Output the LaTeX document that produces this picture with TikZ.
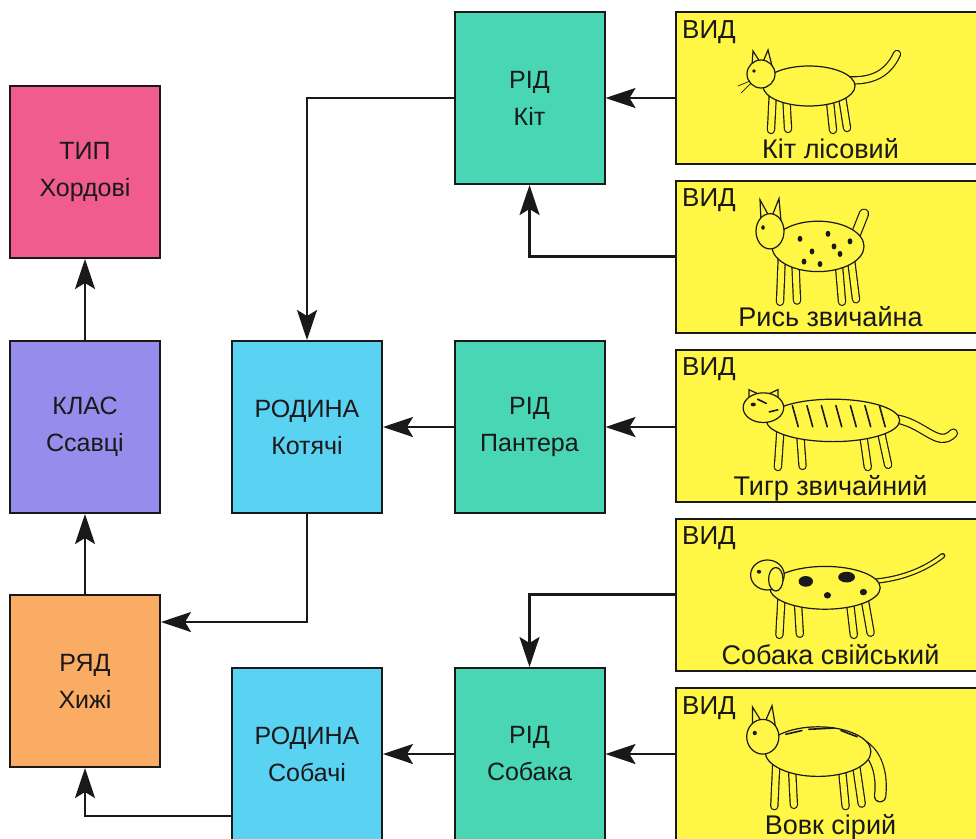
\documentclass[tikz,border=0pt]{standalone}
\usepackage{fontspec}
\setmainfont{Liberation Sans}
\usetikzlibrary{arrows.meta,positioning,calc}

\definecolor{typcol}{RGB}{240,92,142}
\definecolor{klascol}{RGB}{150,140,235}
\definecolor{ryadcol}{RGB}{250,172,100}
\definecolor{rodcol}{RGB}{90,210,242}
\definecolor{ridcol}{RGB}{72,214,180}
\definecolor{vidcol}{RGB}{255,246,70}
\definecolor{ink}{RGB}{25,25,25}

\tikzset{
  taxon/.style={rectangle, draw=ink, line width=2pt, minimum width=150pt, minimum height=172pt, inner sep=0pt, align=center, text=ink, font=\fontsize{25}{37}\selectfont},
  vidbox/.style={rectangle, draw=ink, line width=2pt, fill=vidcol, minimum width=309pt, minimum height=152pt},
  vidtag/.style={anchor=base west, inner sep=0pt, text=ink, font=\fontsize{26}{30}\selectfont},
  vidname/.style={anchor=base, inner sep=0pt, text=ink, font=\fontsize{27}{30}\selectfont},
  arr/.style={draw=ink, line width=2.4pt, -{Stealth[length=30pt,width=20pt,inset=6pt]}},
  leg/.style={draw=ink, line width=1.2pt, double=vidcol, double distance=6pt, line cap=round},
  hide/.style={draw=ink, line width=1.2pt, fill=vidcol},
  fur/.style={draw=ink, line width=1.6pt, line cap=round},
}

% #1 scope options, #2 drawn behind, #3 drawn on top
\newcommand{\zvir}[3]{%
  \begin{scope}[#1]
    #2
    \draw[leg] (44,44) -- (42,84);
    \draw[leg] (57,46) -- (59,83);
    \draw[leg] (100,46) -- (104,84);
    \draw[leg] (112,44) -- (118,82);
    \draw[hide] (80,40) ellipse [x radius=46, y radius=20];
    \draw[hide] (32,28) circle (14);
    \fill[ink] (25,25) circle (1.8);
    #3
  \end{scope}}

\begin{document}
\begin{tikzpicture}[x=1pt, y=-1pt]
\useasboundingbox (0,0) rectangle (976,838);
\clip (0,0) rectangle (976,838);
\fill[white] (0,0) rectangle (976,838);

\node[taxon, fill=typcol] (typ) at (85,172) {ТИП\\Хордові};
\node[taxon, fill=klascol] (klas) at (85,427) {КЛАС\\Ссавці};
\node[taxon, fill=ryadcol] (ryad) at (85,681) {РЯД\\Хижі};
\node[taxon, fill=rodcol] (kotyachi) at (307,427) {РОДИНА\\Котячі};
\node[taxon, fill=rodcol] (sobachi) at (307,754) {РОДИНА\\Собачі};
\node[taxon, fill=ridcol] (kit) at (529.5,98) {РІД\\Кіт};
\node[taxon, fill=ridcol] (pantera) at (529.5,427) {РІД\\Пантера};
\node[taxon, fill=ridcol] (sobaka) at (529.5,754) {РІД\\Собака};

\foreach \n/\y/\name in {1/88/{Кіт лісовий}, 2/256.5/{Рись звичайна}, 3/425.5/{Тигр звичайний}, 4/594.5/{Собака свійський}, 5/764/{Вовк сірий}}{
  \node[vidbox] (vid\n) at (830.5,\y) {};
  \node[vidtag] (tag\n) at ([xshift=7pt,yshift=-27pt]vid\n.north west) {ВИД};
  \node[vidname] (name\n) at ([yshift=7pt]vid\n.south) {\name};
}

\draw[arr] (klas.north) -- (typ.south);
\draw[arr] (ryad.north) -- (klas.south);
\draw[arr] (kotyachi.south) |- ([yshift=-28pt]ryad.north east);
\draw[arr] ([yshift=-149pt]sobachi.north west) -| (ryad.south);
\draw[arr] (kit.west) -| (kotyachi.north);
\draw[arr] (pantera.west) -- (kotyachi.east);
\draw[arr] (sobaka.west) -- (sobachi.east);
\draw[arr] (vid1.west |- kit.east) -- (kit.east);
\draw[arr] (vid2.west) -| (kit.south);
\draw[arr] (vid3.west |- pantera.east) -- (pantera.east);
\draw[arr] (vid4.west) -| (sobaka.north);
\draw[arr] (vid5.west |- sobaka.east) -- (sobaka.east);

% animals
\zvir{shift={(729,46)}}{
  \draw[hide] (23,20) -- (24,5) -- (31,16) -- cycle;
  \draw[hide] (34,16) -- (39,4) -- (43,20) -- cycle;
  \draw[leg] (116,34) .. controls (140,36) and (158,30) .. (168,8);
}{
  \draw[ink, line width=0.7pt] (21,35) -- (9,40) (22,37) -- (12,47);
}
\zvir{shift={(738,196)}, yscale=1.26}{
  \draw[hide] (23,20) -- (22,3) -- (31,16) -- cycle;
  \draw[hide] (34,16) -- (41,2) -- (43,20) -- cycle;
  \draw[leg, double distance=8pt] (118,30) -- (126,14);
}{
  \foreach \p in {(62,34),(74,44),(90,30),(102,46),(112,36),(82,54),(66,52),(96,40)}
    \fill[ink] \p circle (2.4);
}
\zvir{shift={(717,378)}, xscale=1.45, yscale=1.06}{
  \draw[hide] (22,22) -- (22,11) -- (30,16) -- cycle;
  \draw[hide] (34,16) -- (42,11) -- (42,22) -- cycle;
  \draw[leg, double distance=7pt] (120,38) .. controls (142,40) and (152,68) .. (163,52);
}{
  \foreach \x in {52,62,...,112}
    \draw[fur] (\x,26) -- (\x+4,46);
  \draw[fur] (28,20) -- (34,24) (36,32) -- (42,30);
}
\zvir{shift={(729,545)}, xscale=1.2, yscale=1.07}{
  \draw[leg, double distance=3pt] (120,34) .. controls (142,32) and (162,24) .. (178,10);
}{
  \draw[hide] (39,32) ellipse [x radius=6, y radius=11];
  \fill[ink] (64,34) ellipse [x radius=6, y radius=5];
  \fill[ink] (98,30) ellipse [x radius=7, y radius=5];
  \fill[ink] (82,47) circle (3);
  \fill[ink] (112,44) circle (3);
}
\zvir{shift={(726,702)}, xscale=1.15, yscale=1.24}{
  \draw[hide] (23,20) -- (23,4) -- (31,16) -- cycle;
  \draw[hide] (34,16) -- (40,3) -- (43,20) -- cycle;
  \draw[leg, double distance=10pt] (120,36) .. controls (132,44) and (136,60) .. (134,76);
}{
  \draw[fur] (52,26) -- (66,23) (72,22) -- (94,21) (100,23) -- (114,28);
}
\end{tikzpicture}
\end{document}
